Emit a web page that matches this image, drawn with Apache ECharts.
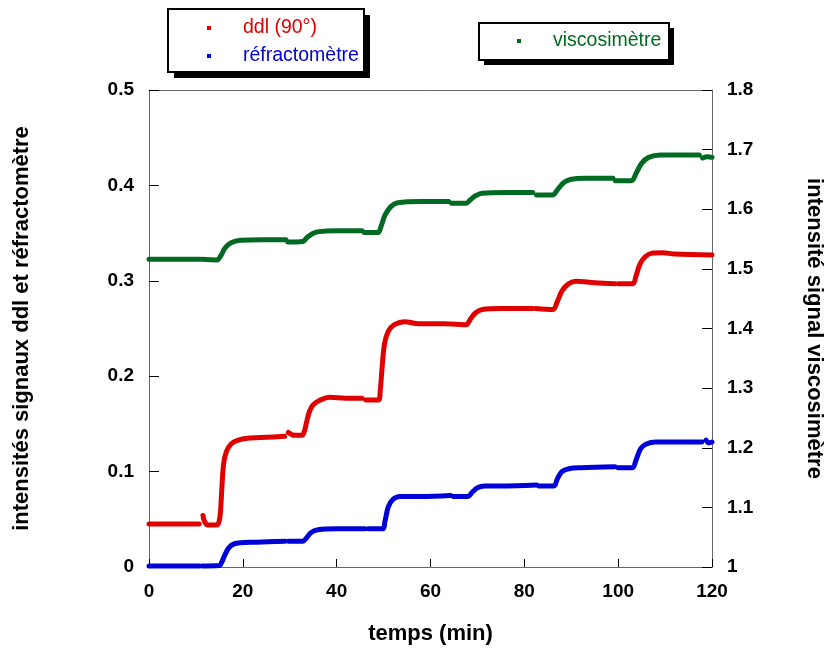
<!DOCTYPE html>
<html>
<head>
<meta charset="utf-8">
<script src="https://cdn.jsdelivr.net/npm/echarts@6/dist/echarts.min.js"></script>
<style>html,body{margin:0;padding:0;background:#fff}#c{width:833px;height:652px}</style>
</head>
<body>
<div id="c"></div>
<script>
// time (min) and values; null = gap in the recorded trace
const ddlT = [0, 10.7, 11.0, 11.5, 11.9, 12.5, 14.4, 14.9, 15.2, 15.5, 15.9, 16.5, 17.5, 19, 21, 25, 28.9, 29.3, 29.7, 31, 32.6, 33.1, 33.6, 34.2, 35, 36.5, 38.5, 42, 45.4, 45.8, 46.2, 48.9, 49.3, 49.7, 50.2, 51, 52.3, 54.5, 57.5, 63, 67.6, 68.4, 69.5, 71, 75, 81.8, 82.1, 82.4, 86.1, 87, 88.1, 89.5, 91, 95, 99.4, 99.7, 100.1, 103.1, 103.8, 104.6, 105.7, 107.2, 109.5, 112, 120];
const ddlY = [0.045, 0.045, null, 0.054, 0.047, 0.044, 0.044, 0.047, 0.056, 0.08, 0.108, 0.121, 0.129, 0.133, 0.135, 0.136, 0.137, null, 0.141, 0.138, 0.138, 0.142, 0.152, 0.163, 0.17, 0.175, 0.178, 0.177, 0.177, null, 0.175, 0.175, 0.186, 0.21, 0.234, 0.247, 0.254, 0.257, 0.255, 0.255, 0.254, 0.259, 0.266, 0.27, 0.271, 0.271, null, 0.271, 0.27, 0.278, 0.29, 0.297, 0.2995, 0.298, 0.297, null, 0.297, 0.297, 0.305, 0.317, 0.325, 0.329, 0.3295, 0.328, 0.327];

const refT = [0, 10.7, 11.0, 11.3, 15, 15.5, 16.2, 17, 18, 19.5, 23, 29, 29.3, 29.7, 32.8, 33.5, 34.5, 36, 40, 46, 46.3, 46.7, 49.8, 50.3, 51, 52, 53.5, 58, 64.3, 64.6, 64.9, 68, 68.8, 70, 71.5, 75, 82.6, 82.8, 83.1, 86.3, 87, 88, 89.5, 92, 99.3, 99.6, 100, 103, 103.8, 104.8, 106, 108, 117.8, 118.2, 118.7, 119.3, 120];
const refY = [0.001, 0.001, null, 0.001, 0.0015, 0.005, 0.013, 0.02, 0.024, 0.0255, 0.026, 0.027, null, 0.027, 0.027, 0.03, 0.036, 0.039, 0.040, 0.040, null, 0.040, 0.040, 0.048, 0.063, 0.071, 0.074, 0.074, 0.075, null, 0.074, 0.074, 0.078, 0.083, 0.085, 0.085, 0.086, null, 0.085, 0.085, 0.092, 0.1, 0.103, 0.104, 0.105, null, 0.104, 0.104, 0.112, 0.124, 0.129, 0.131, 0.131, null, 0.133, 0.130, 0.131];

const viscoT = [0, 10.8, 11.0, 11.2, 14.5, 15.3, 16.2, 17.5, 19.5, 24, 29.2, 29.4, 29.6, 32.8, 33.6, 34.8, 36.2, 40, 45.4, 45.6, 45.9, 48.8, 49.4, 50.3, 51.5, 53, 58, 63.9, 64.2, 64.5, 67.6, 68.5, 69.7, 71, 76, 81.8, 82.2, 82.6, 86, 87, 88.3, 89.8, 93, 98.9, 99.2, 99.4, 102.8, 103.8, 105, 106.5, 109, 117.3, 117.7, 118, 119, 120];
const viscoY = [1.516, 1.516, null, 1.516, 1.515, 1.522, 1.535, 1.544, 1.548, 1.549, 1.549, null, 1.545, 1.546, 1.552, 1.559, 1.5625, 1.564, 1.564, null, 1.561, 1.561, 1.57, 1.59, 1.604, 1.611, 1.613, 1.613, null, 1.61, 1.61, 1.616, 1.623, 1.627, 1.628, 1.628, null, 1.624, 1.624, 1.632, 1.644, 1.65, 1.652, 1.652, null, 1.648, 1.648, 1.66, 1.677, 1.687, 1.691, 1.691, null, 1.686, 1.688, 1.687];

const xTicks = [0, 20, 40, 60, 80, 100, 120];
const leftTicks = [0, 0.1, 0.2, 0.3, 0.4, 0.5];
const rightTicks = [1, 1.1, 1.2, 1.3, 1.4, 1.5, 1.6, 1.7, 1.8];

const names = ['ddl (90°)', 'réfractomètre', 'viscosimètre'];
const colors = ['#e00000', '#0000d8', '#006a22'];

function pairs(t, y) { return t.map((v, i) => [v, y[i] === null ? '-' : y[i]]); }

const FONT = '"Liberation Sans", Arial, sans-serif';
const tickLabel = { color: '#000', fontFamily: FONT, fontWeight: 'bold', fontSize: 19 };
const nameStyle = { color: '#000', fontFamily: FONT, fontWeight: 'bold', fontSize: 22 };
const lineCol = '#666';

const chart = echarts.init(document.getElementById('c'), null, { renderer: 'canvas' });

function legendBox(extra) {
  return Object.assign({
    orient: 'vertical', icon: 'rect', itemWidth: 4, itemHeight: 4, itemGap: 8, padding: 0,
    selectedMode: false, z: 10,
    textStyle: { fontFamily: FONT, fontSize: 19.5, padding: [0, 0, 0, 27] }
  }, extra);
}

function box(x, y, w, h, off) {
  return [
    { type: 'rect', z: 5, shape: { x: x + off, y: y + off, width: w, height: h }, style: { fill: '#000' } },
    { type: 'rect', z: 6, shape: { x: x, y: y, width: w, height: h }, style: { fill: '#fff', stroke: '#000', lineWidth: 2 } }
  ];
}

chart.setOption({
  animation: false,
  backgroundColor: '#fff',
  grid: { left: 149, right: 115, top: 90, bottom: 85 },
  graphic: [].concat(box(168, 9, 196, 63, 6), box(479, 23, 190, 37, 5)),
  legend: [
    legendBox({ left: 207, top: 18,
      data: [{ name: names[0], textStyle: { color: colors[0] } }, { name: names[1], textStyle: { color: colors[1] } }] }),
    legendBox({ left: 517, top: 31,
      data: [{ name: names[2], textStyle: { color: colors[2] } }] })
  ],
  xAxis: [{
    type: 'value', min: xTicks[0], max: xTicks[xTicks.length - 1], interval: 20,
    name: 'temps (min)', nameLocation: 'middle', nameGap: 56, nameTextStyle: nameStyle,
    axisLine: { show: true, lineStyle: { color: lineCol } },
    axisTick: { show: true, inside: true, length: 8, lineStyle: { color: '#000' } },
    axisLabel: Object.assign({ margin: 15 }, tickLabel),
    splitLine: { show: false }
  }, {
    type: 'value', position: 'top', min: 0, max: 120,
    axisLine: { show: true, onZero: false, lineStyle: { color: lineCol } },
    axisTick: { show: false }, axisLabel: { show: false }, splitLine: { show: false }
  }],
  yAxis: [{
    type: 'value', min: leftTicks[0], max: leftTicks[leftTicks.length - 1], interval: 0.1,
    name: 'intensités signaux ddl et réfractomètre', nameLocation: 'middle', nameGap: 116,
    nameTextStyle: nameStyle,
    axisLine: { show: true, onZero: false, lineStyle: { color: lineCol } },
    axisTick: { show: true, inside: true, length: 10, lineStyle: { color: '#000' } },
    axisLabel: Object.assign({ margin: 15 }, tickLabel),
    splitLine: { show: false }
  }, {
    type: 'value', position: 'right', min: rightTicks[0], max: rightTicks[rightTicks.length - 1], interval: 0.1,
    name: 'intensité signal viscosimètre', nameLocation: 'middle', nameGap: 91, nameRotate: -90,
    nameTextStyle: nameStyle,
    axisLine: { show: true, onZero: false, lineStyle: { color: lineCol } },
    axisTick: { show: true, inside: true, length: 10, lineStyle: { color: '#000' } },
    axisLabel: Object.assign({ margin: 15, formatter: v => String(+v.toFixed(1)) }, tickLabel),
    splitLine: { show: false }
  }],
  series: [
    { name: names[0], type: 'line', data: pairs(ddlT, ddlY), yAxisIndex: 0, color: colors[0],
      showSymbol: false, smooth: 0.35, connectNulls: false, lineStyle: { width: 5, cap: 'round' } },
    { name: names[1], type: 'line', data: pairs(refT, refY), yAxisIndex: 0, color: colors[1],
      showSymbol: false, smooth: 0.35, connectNulls: false, lineStyle: { width: 5, cap: 'round' } },
    { name: names[2], type: 'line', data: pairs(viscoT, viscoY), yAxisIndex: 1, color: colors[2],
      showSymbol: false, smooth: 0.35, connectNulls: false, lineStyle: { width: 5, cap: 'round' } }
  ]
});
</script>
</body>
</html>
